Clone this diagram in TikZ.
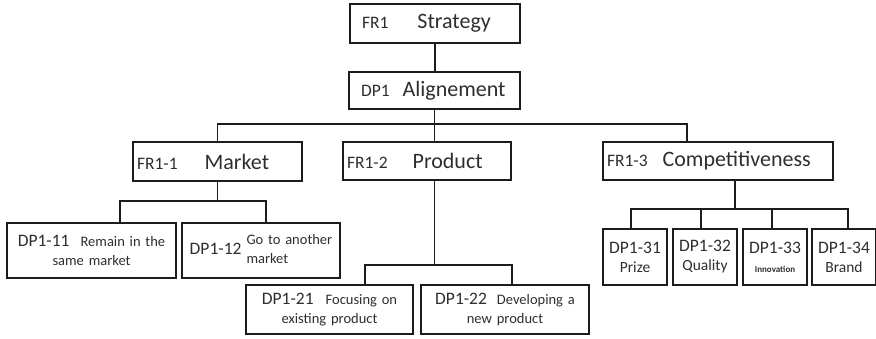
\documentclass[tikz,border=0pt]{standalone}
\usepackage{fontspec}
\setmainfont{Carlito}
\usetikzlibrary{positioning}

\definecolor{ink}{HTML}{1C1C1C}
\definecolor{txt}{HTML}{2E2E2E}

\newcommand{\bigtxt}{\fontsize{22}{24}\selectfont}
\newcommand{\midtxt}{\fontsize{17.5}{20}\selectfont}
\newcommand{\smalltxt}{\fontsize{14.5}{19}\selectfont}
\newcommand{\tinytxt}{\fontsize{9}{11}\selectfont\bfseries}

\begin{document}
\begin{tikzpicture}[
  x=1pt, y=-1pt,
  box/.style={draw=ink, line width=1.8pt, text=txt, inner ysep=0pt, inner xsep=4pt, align=left, font=\midtxt},
  topbox/.style={box, inner xsep=12pt},
  leafbox/.style={box, align=center, font=\smalltxt},
  cbox/.style={box, align=center, inner xsep=4pt, text width=56pt, minimum height=56pt, font=\fontsize{15.5}{19}\selectfont},
  conn/.style={draw=ink, line width=1.8pt},
]
\useasboundingbox (0,0) rectangle (876,338);

% top of the tree
\node[topbox, text width=146pt, minimum height=39pt] (fr1) at (435,23.5) {FR1\hspace{29pt}{\bigtxt Strategy}};
\node[topbox, text width=147pt, minimum height=37pt] (dp1) at (434.5,90.5) {DP1\hspace{13pt}{\bigtxt Alignement}};

% second level
\node[box, text width=161pt, minimum height=39pt] (market)  at (217.5,161.5) {FR1-1\hspace{27pt}{\bigtxt Market}};
\node[box, text width=160pt, minimum height=38pt] (product) at (427,161)     {FR1-2\hspace{25pt}{\bigtxt Product}};
\node[box, text width=222pt, minimum height=38pt] (comp)    at (718,161)     {FR1-3\hspace{15pt}{\bigtxt Competitiveness}};

% market and product leaves
\node[leafbox, text width=161pt, minimum height=55pt] (dp11) at (91.5,250.5) {{\midtxt DP1-11}\hspace{11pt}Remain in the\\same market};
\node[leafbox, text width=150pt, minimum height=55pt] (dp12) at (261,250.5)  {{\midtxt DP1-12}\hspace{5pt}\begin{tabular}{@{}l@{}}Go to another\\market\end{tabular}};
\node[leafbox, text width=159pt, minimum height=49pt] (dp21) at (329.5,309.5) {{\midtxt DP1-21}\hspace{12pt}Focusing on\\existing product};
\node[leafbox, text width=160pt, minimum height=49pt] (dp22) at (505,309.5)   {{\midtxt DP1-22}\hspace{10pt}Developing a\\new product};

% competitiveness leaves
\node[cbox] (dp31) at (635,257) {{\midtxt DP1-31}\\Prize};
\node[cbox] (dp32) at (705,257) {{\midtxt DP1-32}\\Quality};
\node[cbox] (dp33) at (775,257) {{\midtxt DP1-33}\\{\tinytxt Innovation}};
\node[cbox] (dp34) at (844,257) {{\midtxt DP1-34}\\Brand};

\coordinate (hub1) at (434.5,124);
\coordinate (hub2) at (217.5,201);
\coordinate (hub3) at (434.5,265);
\coordinate (hub4) at (735,209);

\draw[conn] (fr1.south) -- (fr1.south |- dp1.north);
\draw[conn] (dp1.south) -- (hub1);
\draw[conn] (market.north) |- (hub1) -| ([xshift=-31pt]comp.north);
\draw[conn] (hub1) -- (hub1 |- product.north);

\draw[conn] (market.south) -- (hub2);
\draw[conn] ([xshift=28.5pt]dp11.north) |- (hub2) -| ([xshift=5pt]dp12.north);

\draw[conn] (hub1 |- product.south) -- (hub3);
\draw[conn] ([xshift=35.5pt]dp21.north) |- (hub3) -| ([xshift=7pt]dp22.north);

\draw[conn] ([xshift=17pt]comp.south) -- (hub4);
\draw[conn] ([xshift=-4pt]dp31.north) |- (hub4) -| ([xshift=4pt]dp34.north);
\draw[conn] ([xshift=-4pt]dp32.north) -- ([xshift=-4pt]dp32.north |- hub4);
\draw[conn] ([xshift=-3pt]dp33.north) -- ([xshift=-3pt]dp33.north |- hub4);
\end{tikzpicture}
\end{document}
